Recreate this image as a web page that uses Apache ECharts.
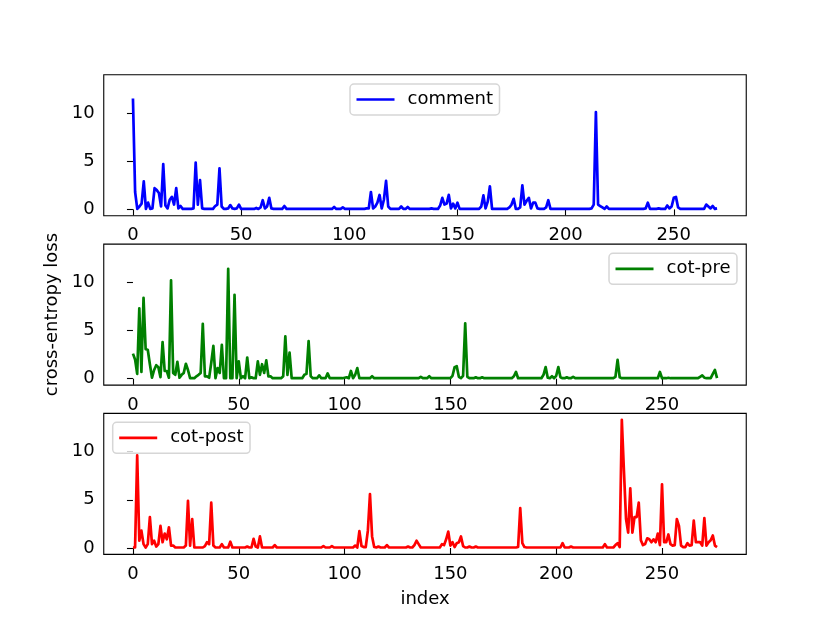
<!DOCTYPE html>
<html>
<head>
<meta charset="utf-8">
<title>cross-entropy loss</title>
<script src="https://cdn.jsdelivr.net/npm/echarts@6/dist/echarts.min.js"></script>
<style>html, body { margin: 0; padding: 0; background: #fff; }</style>
</head>
<body>
<div id="main" style="width: 830px; height: 623px;"></div>
<script>
// loss per index
var comment = [
  11.5, 1.8, 0.05, 0.3, 0.6, 2.9, 0.05, 0.7, 0.05, 0.1,
  2.2, 2.0, 1.7, 0.3, 4.7, 0.4, 0.1, 1.0, 1.3, 0.5,
  2.2, 0.1, 0.35, 0.05, 0.05, 0.05, 0.05, 0.05, 0.1, 4.85,
  0.5, 3.05, 0.1, 0.05, 0.05, 0.05, 0.05, 0.05, 0.35, 0.5,
  4.25, 0.3, 0.05, 0.05, 0.1, 0.45, 0.1, 0.05, 0.1, 0.5,
  0.05, 0.05, 0.05, 0.05, 0.05, 0.05, 0.05, 0.15, 0.05, 0.2,
  0.95, 0.1, 0.3, 1.2, 0.1, 0.05, 0.05, 0.05, 0.05, 0.05,
  0.35, 0.05, 0.05, 0.05, 0.05, 0.05, 0.05, 0.05, 0.05, 0.05,
  0.05, 0.05, 0.05, 0.05, 0.05, 0.05, 0.05, 0.05, 0.05, 0.05,
  0.05, 0.05, 0.05, 0.25, 0.05, 0.05, 0.05, 0.2, 0.05, 0.05,
  0.05, 0.05, 0.05, 0.05, 0.05, 0.05, 0.05, 0.05, 0.1, 0.1,
  1.8, 0.1, 0.3, 0.7, 1.5, 0.1, 1.0, 2.95, 0.3, 0.05,
  0.05, 0.05, 0.05, 0.05, 0.3, 0.05, 0.05, 0.25, 0.05, 0.05,
  0.05, 0.05, 0.05, 0.05, 0.05, 0.05, 0.05, 0.05, 0.1, 0.05,
  0.05, 0.05, 0.4, 1.2, 0.5, 0.6, 1.5, 0.1, 0.6, 0.1,
  0.7, 0.05, 0.05, 0.05, 0.05, 0.05, 0.05, 0.05, 0.05, 0.05,
  0.05, 0.3, 1.45, 0.1, 0.8, 2.4, 0.05, 0.05, 0.05, 0.05,
  0.05, 0.05, 0.05, 0.05, 0.2, 0.5, 1.1, 0.05, 0.05, 0.2,
  2.5, 0.5, 0.9, 1.2, 0.1, 0.7, 0.7, 0.1, 0.05, 0.05,
  0.05, 0.2, 0.95, 0.05, 0.05, 0.05, 0.05, 0.05, 0.05, 0.05,
  0.05, 0.05, 0.05, 0.05, 0.05, 0.05, 0.05, 0.05, 0.05, 0.05,
  0.05, 0.05, 0.1, 0.5, 10.1, 0.5, 0.35, 0.2, 0.05, 0.3,
  0.05, 0.05, 0.05, 0.05, 0.05, 0.05, 0.05, 0.05, 0.05, 0.05,
  0.05, 0.05, 0.05, 0.05, 0.05, 0.05, 0.05, 0.1, 0.7, 0.05,
  0.05, 0.05, 0.05, 0.1, 0.05, 0.05, 0.05, 0.4, 0.1, 0.3,
  1.2, 1.3, 0.2, 0.05, 0.05, 0.05, 0.05, 0.05, 0.05, 0.05,
  0.05, 0.05, 0.05, 0.05, 0.05, 0.5, 0.3, 0.1, 0.35, 0.05,
  0.1
];
var cotPre = [
  2.6, 2.0, 0.5, 7.3, 0.7, 8.4, 3.05, 3.0, 1.5, 0.1,
  0.9, 1.4, 1.2, 0.15, 3.8, 0.8, 0.8, 0.1, 10.2, 0.6,
  0.4, 1.75, 0.1, 0.4, 0.6, 1.55, 0.9, 0.05, 0.05, 0.05,
  0.25, 0.4, 0.6, 5.7, 0.25, 0.25, 0.1, 1.65, 3.4, 0.05,
  1.1, 0.6, 3.5, 0.05, 0.05, 11.4, 0.05, 0.05, 8.7, 0.05,
  1.8, 0.05, 0.25, 0.05, 2.2, 0.05, 0.15, 0.05, 0.05, 1.8,
  0.4, 1.5, 0.6, 1.9, 0.25, 0.25, 0.05, 0.05, 0.05, 0.05,
  0.05, 0.25, 4.4, 0.4, 2.7, 0.05, 0.05, 0.05, 0.05, 0.05,
  0.05, 0.4, 0.5, 3.9, 0.25, 0.05, 0.05, 0.05, 0.35, 0.05,
  0.05, 0.05, 0.55, 0.05, 0.05, 0.05, 0.05, 0.05, 0.05, 0.05,
  0.1, 0.15, 0.05, 0.8, 0.05, 0.4, 1.1, 0.05, 0.05, 0.05,
  0.05, 0.05, 0.05, 0.25, 0.05, 0.05, 0.05, 0.05, 0.05, 0.05,
  0.05, 0.05, 0.05, 0.05, 0.05, 0.05, 0.05, 0.05, 0.05, 0.05,
  0.05, 0.05, 0.05, 0.05, 0.05, 0.05, 0.2, 0.05, 0.05, 0.05,
  0.25, 0.05, 0.05, 0.05, 0.05, 0.05, 0.05, 0.05, 0.05, 0.05,
  0.05, 0.3, 1.2, 1.3, 0.2, 0.05, 0.3, 5.75, 0.2, 0.05,
  0.05, 0.05, 0.15, 0.05, 0.05, 0.15, 0.05, 0.05, 0.05, 0.05,
  0.05, 0.05, 0.05, 0.05, 0.05, 0.05, 0.05, 0.05, 0.05, 0.05,
  0.25, 0.7, 0.05, 0.05, 0.05, 0.05, 0.05, 0.05, 0.05, 0.05,
  0.05, 0.05, 0.05, 0.05, 0.4, 1.2, 0.1, 0.05, 0.25, 0.05,
  0.3, 1.2, 0.15, 0.05, 0.05, 0.15, 0.05, 0.05, 0.2, 0.05,
  0.05, 0.05, 0.05, 0.05, 0.05, 0.05, 0.05, 0.05, 0.05, 0.05,
  0.05, 0.05, 0.05, 0.05, 0.05, 0.05, 0.05, 0.05, 0.2, 1.95,
  0.15, 0.05, 0.05, 0.05, 0.05, 0.05, 0.05, 0.05, 0.05, 0.05,
  0.05, 0.05, 0.05, 0.05, 0.05, 0.05, 0.05, 0.05, 0.05, 0.7,
  0.05, 0.05, 0.05, 0.1, 0.05, 0.05, 0.05, 0.05, 0.05, 0.05,
  0.05, 0.05, 0.05, 0.05, 0.05, 0.05, 0.05, 0.05, 0.2, 0.35,
  0.1, 0.05, 0.05, 0.05, 0.5, 0.9, 0.05
];
var cotPost = [
  0.05, 0.05, 9.6, 0.75, 1.8, 0.4, 0.05, 0.4, 3.2, 0.4,
  0.75, 0.15, 0.4, 2.3, 0.6, 1.5, 0.9, 2.15, 0.25, 0.25,
  0.05, 0.05, 0.05, 0.05, 0.05, 0.25, 4.9, 0.25, 3.0, 0.05,
  0.05, 0.05, 0.05, 0.05, 0.2, 0.6, 0.4, 4.7, 0.25, 0.05,
  0.05, 0.05, 0.4, 0.05, 0.05, 0.05, 0.65, 0.05, 0.05, 0.05,
  0.05, 0.05, 0.05, 0.05, 0.15, 0.05, 0.05, 0.95, 0.15, 0.05,
  1.2, 0.05, 0.05, 0.05, 0.05, 0.05, 0.05, 0.3, 0.05, 0.05,
  0.05, 0.05, 0.05, 0.05, 0.05, 0.05, 0.05, 0.05, 0.05, 0.05,
  0.05, 0.05, 0.05, 0.05, 0.05, 0.05, 0.05, 0.05, 0.05, 0.05,
  0.2, 0.05, 0.05, 0.05, 0.2, 0.05, 0.05, 0.05, 0.05, 0.05,
  0.05, 0.05, 0.05, 0.05, 0.05, 0.25, 0.05, 1.75, 0.2, 0.1,
  0.1, 1.8, 5.6, 1.2, 0.1, 0.05, 0.15, 0.05, 0.05, 0.05,
  0.3, 0.05, 0.05, 0.05, 0.05, 0.05, 0.05, 0.05, 0.05, 0.05,
  0.15, 0.05, 0.05, 0.3, 0.75, 0.4, 0.05, 0.05, 0.05, 0.05,
  0.05, 0.05, 0.05, 0.05, 0.05, 0.05, 0.4, 0.3, 0.9, 1.7,
  0.25, 0.6, 0.1, 0.5, 0.6, 1.2, 0.2, 0.05, 0.05, 0.15,
  0.05, 0.05, 0.15, 0.05, 0.05, 0.05, 0.05, 0.05, 0.05, 0.05,
  0.05, 0.05, 0.05, 0.05, 0.05, 0.05, 0.05, 0.05, 0.05, 0.05,
  0.05, 0.05, 0.1, 4.15, 0.5, 0.1, 0.05, 0.05, 0.05, 0.05,
  0.05, 0.05, 0.05, 0.05, 0.05, 0.05, 0.05, 0.05, 0.05, 0.05,
  0.05, 0.05, 0.05, 0.5, 0.05, 0.05, 0.05, 0.15, 0.05, 0.05,
  0.05, 0.05, 0.05, 0.05, 0.05, 0.05, 0.05, 0.05, 0.05, 0.05,
  0.05, 0.05, 0.05, 0.4, 0.05, 0.05, 0.05, 0.05, 0.3, 0.5,
  0.1, 13.3, 8.0, 3.0, 1.6, 6.2, 1.6, 3.2, 3.2, 4.7,
  0.8, 0.3, 0.4, 1.0, 0.9, 0.6, 0.9, 0.6, 1.5, 0.3,
  6.6, 0.6, 0.6, 1.4, 0.4, 0.25, 0.3, 3.0, 2.3, 0.25,
  0.1, 0.1, 0.5, 0.25, 0.3, 2.85, 0.6, 0.6, 0.6, 0.25,
  3.1, 0.25, 0.6, 0.8, 1.3, 0.25, 0.1
];
var seriesNames = ['comment', 'cot-pre', 'cot-post'];
var seriesColors = ['#0000ff', '#008000', '#ff0000'];
var xTicks = [0, 50, 100, 150, 200, 250];
var yTicks = [0, 5, 10];

var font = 'DejaVu Sans';
var allData = [comment, cotPre, cotPost];

// shared y range, matplotlib style 5% margins
var yHi = Math.max.apply(null, comment.concat(cotPre, cotPost));
var yLo = 0;
var yPad = (yHi - yLo) * 0.05;

var myChart = echarts.init(document.getElementById('main'), null, { renderer: 'canvas' });

var tops = [74.8, 244.1, 413.4];
var grids = [], xAxes = [], yAxes = [], series = [], legends = [];
var legendPos = [
  { left: 350, top: 84 },
  { left: 609, top: 253.3 },
  { left: 112.7, top: 422.3 }
];

allData.forEach(function (arr, k) {
  var n = arr.length - 1;
  grids.push({
    left: 103.75, top: tops[k], width: 642.5, height: 141,
    show: true, borderColor: '#000', borderWidth: 1.1, backgroundColor: 'transparent'
  });
  xAxes.push({
    type: 'value', gridIndex: k,
    min: -n * 0.05, max: n * 1.05,
    axisLine: { show: false },
    splitLine: { show: false },
    axisTick: { show: true, length: 6, customValues: xTicks, lineStyle: { color: '#000', width: 1.1 } },
    axisLabel: { customValues: xTicks, color: '#000', fontSize: 18, fontFamily: font, margin: 11 },
    name: k === 2 ? 'index' : '',
    nameLocation: 'middle', nameGap: 36,
    nameTextStyle: { color: '#000', fontSize: 18, fontFamily: font }
  });
  yAxes.push({
    type: 'value', gridIndex: k,
    min: yLo - yPad, max: yHi + yPad,
    axisLine: { show: false },
    splitLine: { show: false },
    axisTick: { show: true, length: 6, customValues: yTicks, lineStyle: { color: '#000', width: 1.1 } },
    axisLabel: { customValues: yTicks, color: '#000', fontSize: 18, fontFamily: font, margin: 9 },
    name: k === 1 ? 'cross-entropy loss' : '',
    nameLocation: 'middle', nameGap: 38,
    nameTextStyle: { color: '#000', fontSize: 18, fontFamily: font }
  });
  series.push({
    name: seriesNames[k], type: 'line',
    xAxisIndex: k, yAxisIndex: k,
    data: arr.map(function (v, i) { return [i, v]; }),
    showSymbol: false, color: seriesColors[k],
    lineStyle: { width: 2.7, color: seriesColors[k], join: 'round' },
    animation: false
  });
  legends.push({
    data: [seriesNames[k]],
    left: legendPos[k].left, top: legendPos[k].top,
    icon: 'rect', itemWidth: 38, itemHeight: 2.7,
    padding: [5.5, 6.5],
    backgroundColor: 'rgba(255,255,255,0.8)',
    borderColor: '#d6d6d6', borderWidth: 1.5, borderRadius: 4,
    selectedMode: false,
    textStyle: { color: '#000', fontSize: 18, fontFamily: font, lineHeight: 20, padding: [0, 0, 0, 8] }
  });
});

var option = {
  backgroundColor: '#fff',
  animation: false,
  grid: grids,
  xAxis: xAxes,
  yAxis: yAxes,
  legend: legends,
  series: series
};
myChart.setOption(option);
</script>
</body>
</html>
